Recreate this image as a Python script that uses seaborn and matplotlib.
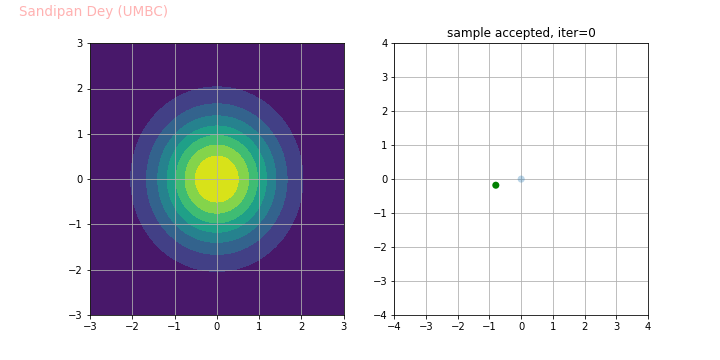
import numpy as np
import pandas as pd
import matplotlib
matplotlib.use("Agg")
import matplotlib.pyplot as plt
import seaborn as sns

# ── target density: standard bivariate normal ────────────────────────────────
mean = [0.0, 0.0]
std = [1.0, 1.0]
grid_lim = 3

# ── sampler state at iter=0 ──────────────────────────────────────────────────
current_x = [0.0]
current_y = [0.0]
proposal_x = [-0.8]
proposal_y = [-0.18]
iteration = 0

left_ticks = np.arange(-3, 4)
right_ticks = np.arange(-4, 5)

xs = np.linspace(-grid_lim, grid_lim, 300)
X, Y = np.meshgrid(xs, xs)
Z = np.exp(-0.5 * (((X - mean[0]) / std[0]) ** 2 + ((Y - mean[1]) / std[1]) ** 2)) / (2 * np.pi * std[0] * std[1])

fig, axes = plt.subplots(1, 2, figsize=(10, 5), dpi=72)
fig.subplots_adjust(left=0.125, right=0.9, top=0.88, bottom=0.125, wspace=0.2)

ax = axes[0]
ax.contourf(X, Y, Z, cmap="viridis")
ax.set_xlim(-3, 3)
ax.set_ylim(-3, 3)
ax.set_xticks(left_ticks)
ax.set_yticks(left_ticks)
ax.grid(True)

ax = axes[1]
cur = pd.DataFrame({"x": current_x, "y": current_y})
prop = pd.DataFrame({"x": proposal_x, "y": proposal_y})
sns.scatterplot(data=cur, x="x", y="y", color="C0", alpha=0.3, s=50, edgecolor="none", ax=ax)
sns.scatterplot(data=prop, x="x", y="y", color="green", s=50, edgecolor="none", ax=ax)
ax.set_xlim(-4, 4)
ax.set_ylim(-4, 4)
ax.set_xticks(right_ticks)
ax.set_yticks(right_ticks)
ax.set_xlabel("")
ax.set_ylabel("")
ax.grid(True)
ax.set_axisbelow(True)
ax.set_title(f"sample accepted, iter={iteration}")

fig.text(0.027, 0.967, "Sandipan Dey (UMBC)", color="red", alpha=0.3, fontsize=13.5, va="center")

fig.savefig("out.png", dpi=72)
